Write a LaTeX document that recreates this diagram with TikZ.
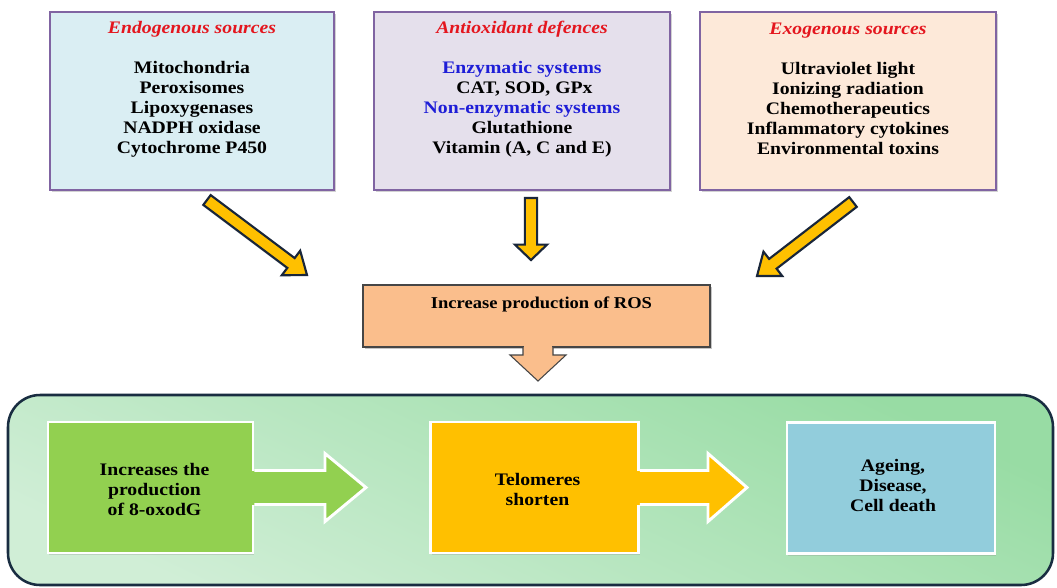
\documentclass[tikz,border=0pt]{standalone}
\usepackage{fontspec}
\setmainfont{Liberation Serif}[FakeStretch=1.12]
\usetikzlibrary{calc,shadows}
\definecolor{endofill}{RGB}{218,238,243}
\definecolor{antifill}{RGB}{229,224,236}
\definecolor{exofill}{RGB}{253,233,217}
\definecolor{boxpurple}{RGB}{128,100,162}
\definecolor{titlered}{RGB}{228,22,30}
\definecolor{sysblue}{RGB}{30,30,215}
\definecolor{arrowyellow}{RGB}{255,192,0}
\definecolor{arrowdark}{RGB}{25,38,58}
\definecolor{rosfill}{RGB}{250,190,140}
\definecolor{rosline}{RGB}{70,70,70}
\definecolor{panelline}{RGB}{25,45,65}
\definecolor{panellight}{RGB}{208,238,214}
\definecolor{paneldark}{RGB}{152,220,164}
\definecolor{gbox}{RGB}{146,208,80}
\definecolor{obox}{RGB}{255,192,0}
\definecolor{bbox}{RGB}{146,205,220}
\newcommand{\blockarr}[6]{%
  \coordinate (tmpH) at ($(#3)!#6!(#2)$);
  \path[#1] ($(#2)!#4!90:(#3)$) -- ($(tmpH)!#4!90:(#3)$) -- ($(tmpH)!#5!90:(#3)$) -- (#3)
    -- ($(tmpH)!#5!-90:(#3)$) -- ($(tmpH)!#4!-90:(#3)$) -- ($(#2)!#4!-90:(#3)$) -- cycle;}
\tikzset{
  txt/.style={font=\fontsize{13.2}{15}\selectfont\bfseries, align=center, inner sep=0pt},
  topbox/.style={draw=boxpurple, line width=1.1pt, inner sep=0pt, minimum height=133.5pt,
    drop shadow={opacity=0.35, shadow xshift=1.2pt, shadow yshift=-1.2pt}},
  yarrow/.style={fill=arrowyellow, draw=arrowdark, line width=1.6pt, line join=miter},
  rosbox/.style={fill=rosfill, draw=rosline, line width=0.8pt, inner sep=0pt,
    minimum width=260.25pt, minimum height=46.5pt,
    drop shadow={opacity=0.45, shadow xshift=1.2pt, shadow yshift=-1.2pt}},
  panel/.style={draw=panelline, line width=1.9pt, rounded corners=24pt, inner sep=0pt,
    top color=paneldark, bottom color=panellight, shading angle=-25,
    minimum width=783.75pt, minimum height=142.5pt},
  innerbox/.style={draw=white, line width=2.2pt, inner sep=0pt, minimum width=156pt,
    minimum height=98.25pt, align=center, font=\fontsize{13.2}{15}\selectfont\bfseries,
    drop shadow={opacity=0.25, shadow xshift=1pt, shadow yshift=-1.5pt}},
  barrow/.style={draw=white, line width=2.2pt, line join=miter},
}
\begin{document}
\begin{tikzpicture}[x=0.75pt,y=-0.75pt]
\useasboundingbox (0,0) rectangle (1057,587);
\fill[white] (0,0) rectangle (1057,587);

% top boxes
\node[topbox, fill=endofill, minimum width=213pt] (endo) at (192,101) {};
\node[topbox, fill=antifill, minimum width=222pt] (anti) at (522,101) {};
\node[topbox, fill=exofill, minimum width=222pt] (exo) at (848,101) {};

\node[txt] (endot) at ($(endo.north)+(0,78)$) {\textcolor{titlered}{\itshape Endogenous sources}\\[15pt]
  Mitochondria\\Peroxisomes\\Lipoxygenases\\NADPH oxidase\\Cytochrome P450};
\node[txt] (antit) at ($(anti.north)+(0,78)$) {\textcolor{titlered}{\itshape Antioxidant defences}\\[15pt]
  \textcolor{sysblue}{Enzymatic systems}\\\hphantom{,}CAT, SOD, GPx\\\textcolor{sysblue}{Non-enzymatic systems}\\Glutathione\\Vitamin (A, C and E)};
\node[txt] (exot) at ($(exo.north)+(0,78)$) {\textcolor{titlered}{\itshape Exogenous sources}\\[15pt]
  Ultraviolet light\\Ionizing radiation\\Chemotherapeutics\\Inflammatory cytokines\\Environmental toxins};

% ROS box
\node[rosbox] (ros) at (536.5,316) {};
\node[txt, font=\fontsize{12.4}{14}\selectfont\bfseries] (rost) at ($(ros.north)+(5,20)$) {Increase production of ROS};

% yellow arrows into ROS
\coordinate (a1s) at (207,200); \coordinate (a1e) at (307,275);
\coordinate (a2s) at (531,198); \coordinate (a2e) at (531,260);
\coordinate (a3s) at (853,202); \coordinate (a3e) at (757,276);
\blockarr{yarrow}{a1s}{a1e}{4.6pt}{11.5pt}{15pt}
\blockarr{yarrow}{a2s}{a2e}{4.6pt}{12pt}{11.5pt}
\blockarr{yarrow}{a3s}{a3e}{4.6pt}{11.5pt}{15pt}

% panel
\node[panel] (panel) at (530.5,490) {};

% ROS down arrow
\coordinate (rtip) at (538,381);
\fill[rosfill] ($(ros.south)+(-12.5,-2)$) rectangle ($(ros.south)+(15.5,1.5)$);
\draw[rosline, line width=0.8pt, fill=rosfill, line join=miter]
  ($(ros.south)+(-13.5,0)$) -- (523,355) -- (510,355) -- (rtip) -- (566,355) -- (553,355) -- ($(ros.south)+(16.5,0)$);

% inner boxes
\node[innerbox, fill=gbox, minimum width=153.75pt] (ox) at (150.5,487.5) {};
\node[txt] (oxt) at ($(ox.center)+(4,1.5)$) {Increases the\\production\\of 8-oxodG};
\node[innerbox, fill=obox] (tel) at (534.5,487.5) {};
\node[txt] (telt) at ($(tel.center)+(3,2)$) {Telomeres\\shorten};
\node[innerbox, fill=bbox] (age) at (891,488) {};
\node[txt] (aget) at ($(age.center)+(2,-3)$) {Ageing,\\Disease,\\Cell death};

% block arrows between inner boxes
\coordinate (gtip) at (366,487.5);
\fill[gbox] ($(ox.east)+(-3,-17)$) rectangle ($(ox.east)+(3,17)$);
\draw[barrow, fill=gbox] ($(ox.east)+(0,-17)$) -- (325,470.5) -- (325,453.5) -- (gtip)
  -- (325,521.5) -- (325,504.5) -- ($(ox.east)+(0,17)$);
\coordinate (otip) at (747,487.5);
\fill[obox] ($(tel.east)+(-3,-17)$) rectangle ($(tel.east)+(3,17)$);
\draw[barrow, fill=obox] ($(tel.east)+(0,-17)$) -- (708,470.5) -- (708,453.5) -- (otip)
  -- (708,521.5) -- (708,504.5) -- ($(tel.east)+(0,17)$);
\end{tikzpicture}
\end{document}
